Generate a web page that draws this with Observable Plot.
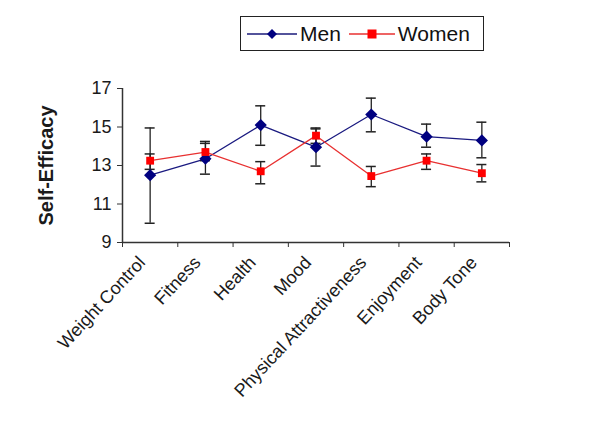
<!DOCTYPE html>
<html><head><meta charset="utf-8">
<script src="https://cdn.jsdelivr.net/npm/d3@7"></script>
<script src="https://cdn.jsdelivr.net/npm/@observablehq/plot@0.6"></script>
<style>
body{margin:0;background:#fff;font-family:"Liberation Sans",Arial,sans-serif;}
#legend{position:relative;height:60px;}
.box{position:absolute;left:240px;top:16px;width:242px;height:33px;border:1px solid #222;display:flex;align-items:center;font-size:21px;color:#111;box-sizing:content-box;}
.box svg{display:block}
</style></head><body>
<div id="legend"><div class="box">
<svg width="50" height="20" style="margin-left:6px"><line x1="0" y1="10" x2="50" y2="10" stroke="#1a1a7a" stroke-width="1.3"/><path d="M25,5 L30,10 L25,15 L20,10 Z" fill="#000080"/></svg><span style="margin-left:3px">Men</span>
<svg width="46" height="20" style="margin-left:8px"><line x1="0" y1="10" x2="46" y2="10" stroke="#e83030" stroke-width="1.3"/><rect x="18.5" y="5.5" width="9" height="9" fill="#ff0000"/></svg><span style="margin-left:3px">Women</span>
</div></div>
<div id="chart"></div>
<script>
const categories = ["Weight Control","Fitness","Health","Mood","Physical Attractiveness","Enjoyment","Body Tone"];
const menMean  = [12.5, 13.35, 15.1, 13.95, 15.65, 14.5, 14.3];
const menLow   = [10.0, 12.55, 14.05, 12.97, 14.75, 13.95, 13.4];
const menHigh  = [14.95, 14.15, 16.1, 14.9, 16.5, 15.15, 15.25];
const womenMean = [13.25, 13.7, 12.7, 14.55, 12.45, 13.25, 12.6];
const womenLow  = [12.8, 13.25, 12.05, 14.15, 11.9, 12.8, 12.15];
const womenHigh = [13.6, 14.25, 13.2, 14.95, 12.95, 13.6, 13.05];
const yTicks = [9, 11, 13, 15, 17];
const seriesNames = ["Men", "Women"];
const yTitle = "Self-Efficacy";

const rows = [];
categories.forEach((c, i) => {
  rows.push({cat: c, idx: i, series: "Men", mean: menMean[i], lo: menLow[i], hi: menHigh[i]});
});
categories.forEach((c, i) => {
  rows.push({cat: c, idx: i, series: "Women", mean: womenMean[i], lo: womenLow[i], hi: womenHigh[i]});
});
const pos = d => d.idx + 0.5;
const men = rows.filter(d => d.series === "Men");
const women = rows.filter(d => d.series === "Women");

const chart = Plot.plot({
  width: 600,
  height: 387,
  marginTop: 28,
  marginBottom: 205,
  marginLeft: 122,
  marginRight: 91,
  style: {fontFamily: "'Liberation Sans', Arial, sans-serif", fontSize: "18px", color: "#1a1a1a", background: "#fff"},
  x: {domain: [0, categories.length], axis: null},
  y: {domain: [9, 17], axis: null},
  color: {domain: seriesNames, range: ["#1a1a80", "#e83030"]},
  marks: [
    Plot.ruleY([9], {x1: 0, x2: categories.length, stroke: "#333", strokeWidth: 1.5}),
    Plot.ruleX([0], {y1: 9, y2: 17, stroke: "#333", strokeWidth: 1.5}),
    Plot.axisY({ticks: yTicks, tickSize: 5, tickPadding: 6, fontSize: 18, label: null, stroke: "#333"}),
    Plot.axisX({ticks: d3.range(categories.length + 1), tickFormat: () => "", tickSize: 5, label: null, stroke: "#333"}),
    Plot.axisX({ticks: categories.map((c, i) => i + 0.5), tickFormat: d => categories[Math.floor(d)], tickSize: 0, tickRotate: -47, tickPadding: 17, dx: -8, fontSize: 18, label: null}),
    Plot.text([yTitle], {x: 0, y: 13, rotate: -90, dx: -76, fontWeight: "bold", fontSize: 20, fill: "#1a1a1a"}),
    Plot.line(rows, {x: pos, y: "mean", z: "series", stroke: "series", strokeWidth: 1.3}),
    Plot.ruleX(rows, {x: pos, y1: "lo", y2: "hi", stroke: "#222", strokeWidth: 1.3}),
    Plot.ruleY(rows, {y: "lo", x1: pos, x2: pos, insetLeft: -5, insetRight: -5, stroke: "#222", strokeWidth: 1.5}),
    Plot.ruleY(rows, {y: "hi", x1: pos, x2: pos, insetLeft: -5, insetRight: -5, stroke: "#222", strokeWidth: 1.5}),
    Plot.dot(men, {x: pos, y: "mean", symbol: "diamond2", r: 5.5, fill: "#000080", stroke: "none"}),
    Plot.dot(women, {x: pos, y: "mean", symbol: "square2", r: 5, fill: "#ff0000", stroke: "none"})
  ]
});
document.getElementById("chart").appendChild(chart);
</script>
</body></html>
